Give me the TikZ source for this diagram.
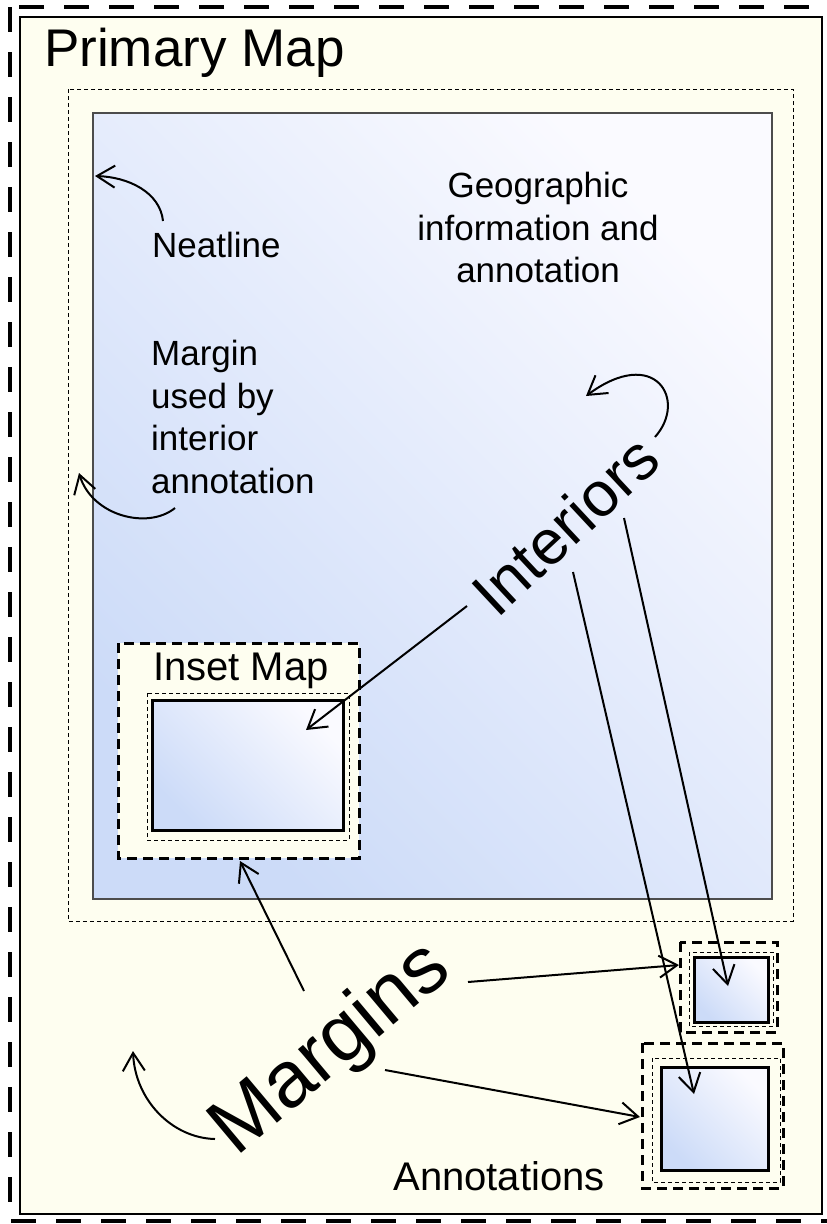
\documentclass[tikz,border=0pt]{standalone}
\usepackage{fontspec}
\setmainfont{Liberation Sans}
\usetikzlibrary{arrows.meta}
\definecolor{cream}{RGB}{254,254,240}
\definecolor{mapblue}{RGB}{204,219,248}
\definecolor{mapwhite}{RGB}{250,250,255}
\tikzstyle{frame} = [draw, line width=2.5pt, fill=cream]
\tikzstyle{margin} = [draw, line width=0.8pt, dash pattern=on 4pt off 3pt]
\tikzstyle{neat} = [draw=black!70, line width=1.5pt, top color=mapwhite, bottom color=mapblue, shading angle=-45]
\tikzstyle{inner} = [draw, line width=3pt, top color=mapwhite, bottom color=mapblue, shading angle=-45]
\tikzstyle{annobox} = [draw, line width=3pt, dash pattern=on 10pt off 6pt, fill=cream]
\tikzstyle{maptext} = [inner sep=0pt, font=\fontsize{35}{42.5}\selectfont]
\tikzstyle{pointer} = [->, line width=2pt]

\begin{document}
\begin{tikzpicture}[x=1pt, y=-1pt, >={Straight Barb[length=18pt,width=22pt]}]
    \useasboundingbox (0,0) rectangle (827,1224);
    % We start with the frames
    \draw [line width=3.5pt, dash pattern=on 25pt off 20pt] (10,7) rectangle (838,1221);
    \draw [frame] (20,17) rectangle (822,1214);
    \draw [margin] (68,89) rectangle (793,921);
    \draw [neat] (93,113) rectangle (772,899);
    % inset map
    \draw [annobox] (118,643) rectangle (359,858);
    \draw [margin] (147,693) rectangle (349,840);
    \draw [inner] (152,700) rectangle (343,830);
    % annotations
    \draw [annobox] (680,942) rectangle (777,1032);
    \draw [margin] (689,952) rectangle (773,1026);
    \draw [inner] (694,957) rectangle (768,1022);
    \draw [annobox] (642,1043) rectangle (783,1188);
    \draw [margin] (652,1058) rectangle (780,1182);
    \draw [inner] (661,1067) rectangle (768,1170);
    % texts
    \node [anchor=base west, inner sep=0pt, font=\fontsize{53}{53}\selectfont] (title) at (44,66) {Primary Map};
    \node [maptext, anchor=base west] (neatline) at (152,257) {Neatline};
    \node [maptext, anchor=north, align=center] (geo) at (538,172) {Geographic\\information and\\annotation};
    \node [maptext, anchor=north west, align=left] (marg) at (151,340) {Margin\\used by\\interior\\annotation};
    \node [anchor=base, inner sep=0pt, font=\fontsize{40}{40}\selectfont] (inset) at (241,680) {Inset Map};
    \node [anchor=base, inner sep=0pt, font=\fontsize{40}{40}\selectfont] (annot) at (499,1190) {Annotations};
    \node [rotate=43, inner sep=0pt, font=\fontsize{63}{63}\selectfont] (interiors) at (565,525) {Interiors};
    \node [rotate=40, inner sep=0pt, font=\fontsize{80}{80}\selectfont] (margins) at (332,1050) {Margins};
    % arrow ends
    \coordinate (i1) at (467,606);
    \coordinate (i2) at (624,518);
    \coordinate (i3) at (573,572);
    \coordinate (m1) at (304,991);
    \coordinate (m2) at (468,982);
    \coordinate (m3) at (385,1070);
    \coordinate (insettip) at (306,730);
    \coordinate (atip) at (728,986);
    \coordinate (btip) at (694,1094);
    \coordinate (insetedge) at (240,861);
    \coordinate (aedge) at (679,965);
    \coordinate (bedge) at (640,1117);
    % straight pointers
    \draw [pointer] (i1) -- (insettip);
    \draw [pointer] (i2) -- (atip);
    \draw [pointer] (i3) -- (btip);
    \draw [pointer] (m1) -- (insetedge);
    \draw [pointer] (m2) -- (aedge);
    \draw [pointer] (m3) -- (bedge);
    % curved pointers
    \coordinate (c1) at (163,221);
    \coordinate (c1t) at (95,176);
    \draw [pointer] (c1) .. controls (160,192) and (128,177) .. (c1t);
    \coordinate (c2) at (175,508);
    \coordinate (c2t) at (79,473);
    \draw [pointer] (c2) .. controls (148,530) and (92,516) .. (c2t);
    \coordinate (c3) at (655,437);
    \coordinate (c3t) at (586,396);
    \draw [pointer] (c3) .. controls (688,400) and (655,345) .. (c3t);
    \coordinate (c4) at (215,1139);
    \coordinate (c4t) at (133,1051);
    \draw [pointer] (c4) .. controls (172,1138) and (135,1100) .. (c4t);
\end{tikzpicture}
\end{document}
